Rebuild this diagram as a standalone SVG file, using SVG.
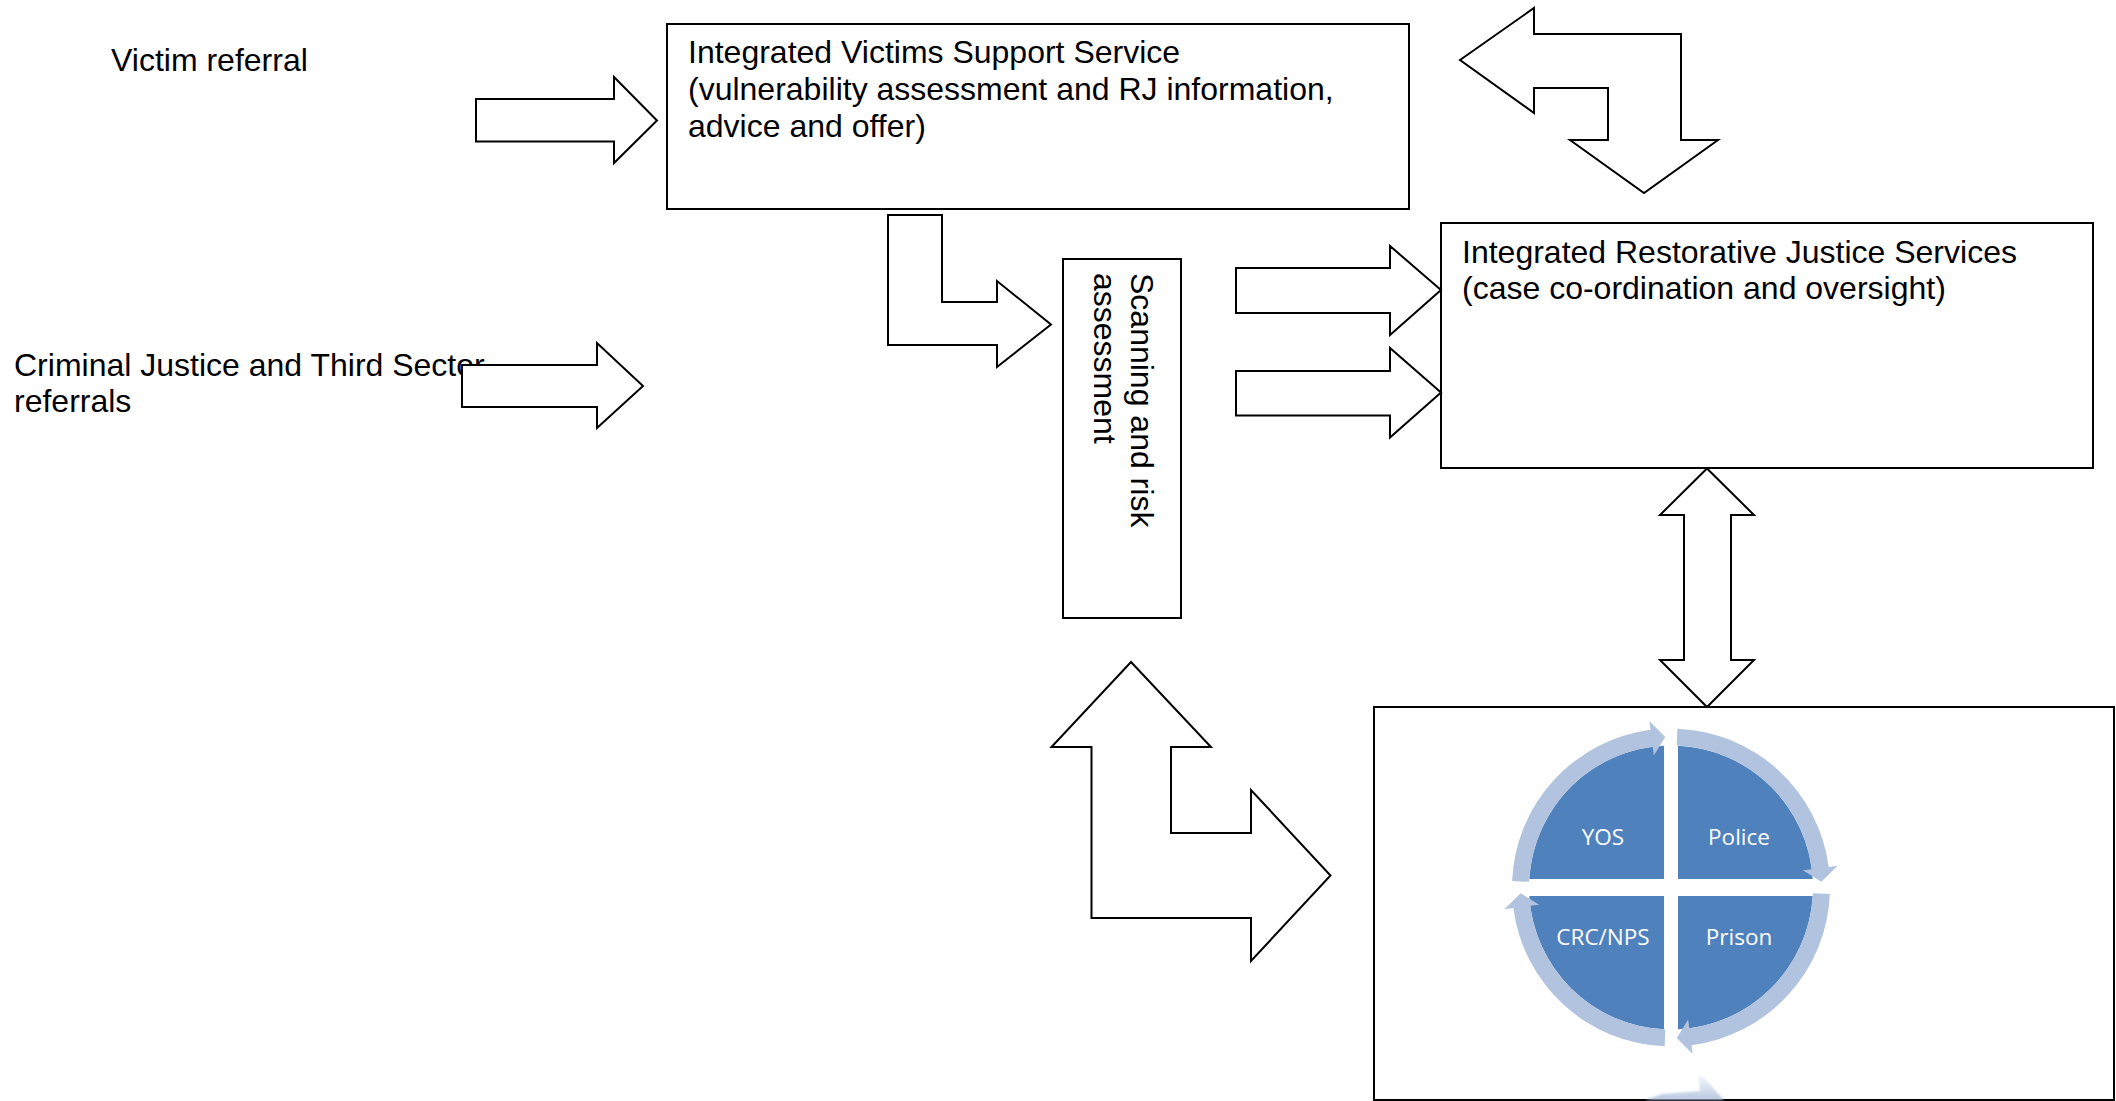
<svg xmlns="http://www.w3.org/2000/svg" width="2116" height="1101" viewBox="0 0 2116 1101">
  <style>
    .box { fill: #ffffff; stroke: #000000; stroke-width: 2; }
    .block { fill: #ffffff; stroke: #000000; stroke-width: 2; stroke-linejoin: miter; }
    .label { font-family: "Liberation Sans", Arial, sans-serif; font-size: 32px; fill: #000000; }
    .quad { fill: #4F81BD; }
    .ring { fill: #B1C3DE; }
    .qlabel { font-family: "Open Sans", "Liberation Sans", sans-serif; font-size: 22.5px; fill: #ffffff; text-anchor: middle; }
  </style>
  <defs>
    <!-- one quarter of the circular arrow ring, drawn for the 0..90 degree sweep around the origin -->
    <path id="ring-seg" d="M158.87,6.38 A159,159 0 0 1 20.48,157.68 L21.64,166.60 L5.78,150.39 L17.13,131.89 L18.29,140.82 A142,142 0 0 0 141.88,5.70 Z"/>
    <linearGradient id="fade" x1="0" y1="0" x2="0" y2="1">
      <stop offset="0" stop-color="#B1C3DE" stop-opacity="0"/>
      <stop offset="1" stop-color="#B1C3DE" stop-opacity="0.9"/>
    </linearGradient>
    <filter id="soft" x="-20%" y="-20%" width="140%" height="140%">
      <feGaussianBlur stdDeviation="1.2"/>
    </filter>
  </defs>

  <rect width="2116" height="1101" fill="#ffffff"/>

  <!-- referral sources -->
  <g id="victim-referral">
    <text class="label" x="111" y="71">Victim referral</text>
  </g>
  <g id="cj-referrals">
    <text class="label" x="14" y="376">Criminal Justice and Third Sector</text>
    <text class="label" x="14" y="412">referrals</text>
  </g>

  <!-- Integrated Victims Support Service -->
  <g id="ivss">
    <rect class="box" x="667" y="24" width="742" height="185"/>
    <text class="label" x="688" y="63">Integrated Victims Support Service</text>
    <text class="label" x="688" y="100">(vulnerability assessment and RJ information,</text>
    <text class="label" x="688" y="137">advice and offer)</text>
  </g>

  <!-- Integrated Restorative Justice Services -->
  <g id="irjs">
    <rect class="box" x="1441" y="223" width="652" height="245"/>
    <text class="label" x="1462" y="263">Integrated Restorative Justice Services</text>
    <text class="label" x="1462" y="299">(case co-ordination and oversight)</text>
  </g>

  <!-- Scanning and risk assessment (vertical text) -->
  <g id="scanning">
    <rect class="box" x="1063" y="259" width="118" height="359"/>
    <text class="label" transform="translate(1131 273) rotate(90)">
      <tspan x="0" y="0">Scanning and risk</tspan>
      <tspan x="0" y="37">assessment</tspan>
    </text>
  </g>

  <!-- Partner agencies cycle -->
  <g id="partners">
    <rect class="box" x="1374" y="707" width="740" height="393"/>
    <g id="cycle">
      <path class="quad" d="M1664,879 L1529.25,879 A142,142 0 0 1 1664,745.67 Z"/>
      <path class="quad" d="M1678,879 L1678,745.67 A142,142 0 0 1 1812.75,879 Z"/>
      <path class="quad" d="M1678,896 L1812.75,896 A142,142 0 0 1 1678,1029.33 Z"/>
      <path class="quad" d="M1664,896 L1664,1029.33 A142,142 0 0 1 1529.25,896 Z"/>
      <use href="#ring-seg" class="ring" transform="translate(1671 887.5)"/>
      <use href="#ring-seg" class="ring" transform="translate(1671 887.5) rotate(90)"/>
      <use href="#ring-seg" class="ring" transform="translate(1671 887.5) rotate(180)"/>
      <use href="#ring-seg" class="ring" transform="translate(1671 887.5) rotate(270)"/>
      <text class="qlabel" x="1603" y="845">YOS</text>
      <text class="qlabel" x="1739" y="845">Police</text>
      <text class="qlabel" x="1603" y="945">CRC/NPS</text>
      <text class="qlabel" x="1739" y="945">Prison</text>
      <!-- faded reflection below the ring -->
      <path d="M1698,1071 L1724,1100 L1645,1100 L1662,1094 L1700,1091 Z" fill="url(#fade)" filter="url(#soft)"/>
    </g>
  </g>

  <!-- block arrows linking the services -->
  <g id="connectors">
    <path class="block" d="M476,99 L614,99 L614,77 L657,120.5 L614,163 L614,141.5 L476,141.5 Z"/>
    <path class="block" d="M462,365 L597,365 L597,343 L643,386 L597,428 L597,407 L462,407 Z"/>
    <path class="block" d="M1460,60 L1534,8 L1534,34 L1681,34 L1681,140 L1718,140 L1644,193 L1570,140 L1608,140 L1608,88 L1534,88 L1534,113 Z"/>
    <path class="block" d="M888,215 L942,215 L942,302 L997,302 L997,281 L1051,324.5 L997,367 L997,345 L888,345 Z"/>
    <path class="block" d="M1236,268 L1390,268 L1390,246 L1441,290 L1390,335 L1390,313 L1236,313 Z"/>
    <path class="block" d="M1236,371 L1390,371 L1390,348 L1441,392.5 L1390,437.5 L1390,415.5 L1236,415.5 Z"/>
    <path class="block" d="M1131,662 L1211,747 L1171,747 L1171,833 L1251,833 L1251,790 L1330.5,875.5 L1251,961 L1251,918 L1091.5,918 L1091.5,747 L1051.5,747 Z"/>
    <path class="block" d="M1707,468.5 L1754,515 L1731,515 L1731,660 L1754,660 L1707,707 L1660,660 L1684,660 L1684,515 L1660,515 Z"/>
  </g>
</svg>
